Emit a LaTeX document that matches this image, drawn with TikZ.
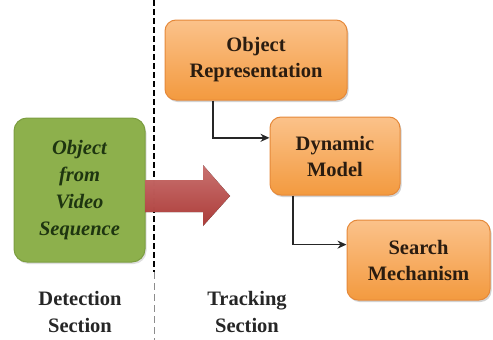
\documentclass[tikz,border=0pt]{standalone}
\usepackage{fontspec}
\newfontfamily\diagfont{Liberation Serif}
\usetikzlibrary{arrows.meta,shadows,calc}
\definecolor{orfill1}{HTML}{FBC28A}
\definecolor{orfill2}{HTML}{F39A3F}
\definecolor{ordraw}{HTML}{E5893A}
\definecolor{grfill}{HTML}{8DB04C}
\definecolor{grdraw}{HTML}{7C9E40}
\definecolor{grtext}{HTML}{1E3510}
\definecolor{redtop}{HTML}{D97A78}
\definecolor{redbot}{HTML}{B8403D}
\definecolor{txtdark}{HTML}{2A1C10}
\tikzset{
  procbox/.style={rectangle, rounded corners=11pt, draw=ordraw, line width=1pt,
    top color=orfill1, bottom color=orfill2, align=center, text=txtdark,
    font=\diagfont\fontsize{20.5}{26}\selectfont\bfseries, inner sep=0pt,
    drop shadow={shadow xshift=1.5pt, shadow yshift=-2pt, fill=black!35, opacity=0.5}},
  srcbox/.style={rectangle, rounded corners=13pt, draw=grdraw, line width=1pt,
    fill=grfill, align=center, text=grtext,
    font=\diagfont\fontsize{20.5}{27}\selectfont\bfseries\itshape, inner sep=0pt,
    drop shadow={shadow xshift=1.5pt, shadow yshift=-2pt, fill=black!25, opacity=0.5}},
  seclabel/.style={align=center, text=black!85, font=\diagfont\fontsize{20.5}{27}\selectfont\bfseries},
  link/.style={line width=1.4pt, draw=black!85, -{Stealth[length=9pt,width=8pt]}}
}
\begin{document}
\begin{tikzpicture}[x=1pt,y=-1pt]
  \useasboundingbox (0,0) rectangle (493,340);
  % dashed divider
  \coordinate (dtop) at (154,0);
  \coordinate (dmid) at (154,272);
  \coordinate (dbot) at (154,340);
  \draw[line width=2.4pt, dash pattern=on 6pt off 3pt] (dtop) -- (dmid);
  \draw[line width=0.9pt, black!45, dash pattern=on 7pt off 4pt] (dmid) -- (dbot);
  % boxes
  \node[srcbox, minimum width=131pt, minimum height=144pt] (src) at (79.5,190)
    {Object\\from\\Video\\Sequence};
  \node[procbox, minimum width=182pt, minimum height=80pt] (rep) at (256,60)
    {Object\\Representation};
  \node[procbox, minimum width=130pt, minimum height=78pt] (dyn) at (335,156)
    {Dynamic\\Model};
  \node[procbox, minimum width=143pt, minimum height=80pt] (srch) at (418.5,260)
    {Search\\Mechanism};
  % big red arrow
  \fill[top color=redtop, bottom color=redbot, opacity=0.92]
    (145,180) -- (203,180) -- (203,165) -- (230,196) -- (203,226) -- (203,212) -- (145,212) -- cycle;
  % connectors
  \coordinate (s1) at (213,0);
  \coordinate (t1) at ($(dyn.north west)!0.27!(dyn.south west)$);
  \draw[link] (s1 |- rep.south) |- (t1);
  \coordinate (s2) at (293,0);
  \coordinate (t2) at ($(srch.north west)!0.31!(srch.south west)$);
  \draw[link] (s2 |- dyn.south) |- (t2);
  % section labels
  \node[seclabel] (det) at (80,312) {Detection\\Section};
  \node[seclabel] (trk) at (247,312) {Tracking\\Section};
\end{tikzpicture}
\end{document}
